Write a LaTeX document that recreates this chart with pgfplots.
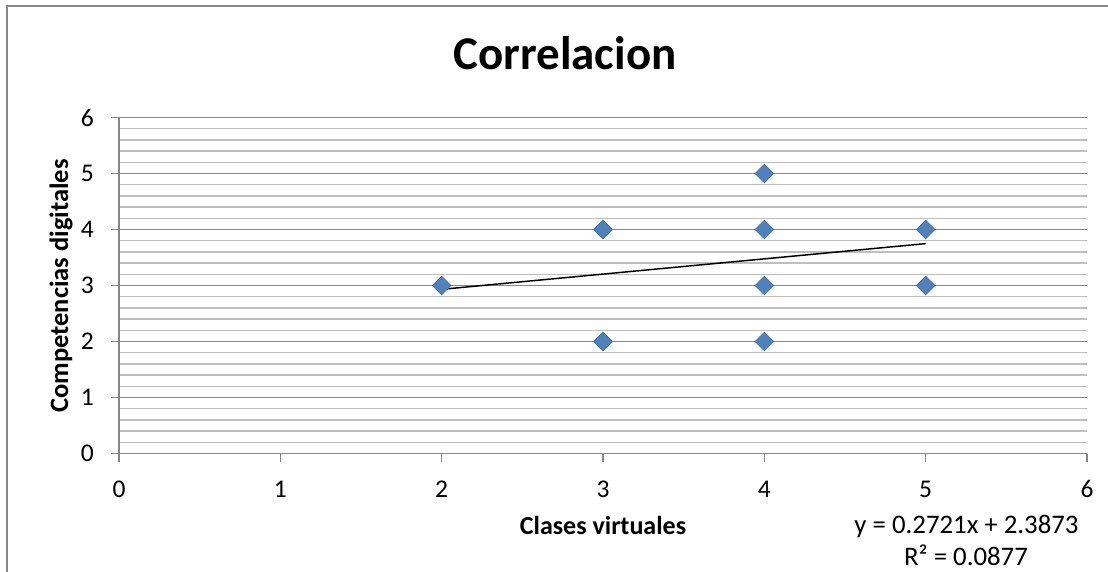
\documentclass[border=0pt]{standalone}
\usepackage{fontspec}
\setmainfont{Carlito}
\usepackage{pgfplots}
\pgfplotsset{compat=1.18}
\definecolor{majgrid}{RGB}{134,134,134}
\definecolor{mingrid}{RGB}{190,190,190}
\definecolor{mk}{RGB}{79,129,189}
\definecolor{frame}{RGB}{134,134,134}
\begin{document}
\begin{tikzpicture}[x=1pt,y=1pt]
\useasboundingbox (0,0) rectangle (1108,571);
\begin{scope}
\clip (0,0) rectangle (1108,571);
\draw[frame, line width=2pt] (6.5,-20) rectangle (1130,564.5);
\end{scope}
\begin{axis}[
  at={(119pt,117.5pt)}, anchor=south west,
  scale only axis, width=968pt, height=336pt,
  xmin=0, xmax=6, ymin=0, ymax=6,
  xtick={0,1,2,3,4,5,6}, ytick={0,1,2,3,4,5,6},
  minor y tick num=4,
  ymajorgrids, yminorgrids,
  major grid style={draw=majgrid, line width=1.6pt},
  minor grid style={draw=mingrid, line width=1.3pt},
  axis x line*=bottom, axis y line*=left,
  axis line style={draw=majgrid, line width=1.6pt, -},
  tick align=outside,
  major tick length=8pt, minor tick length=0pt,
  tick style={draw=majgrid, line width=1.6pt},
  /pgf/number format/assume math mode=true,
  tick label style={font=\fontsize{25.5}{30}\selectfont, inner sep=0pt},
  yticklabel style={anchor=east, xshift=-17pt},
  xticklabel style={anchor=north, yshift=-19pt},
  clip=false,
]
\addplot[only marks, mark=square*, mark size=6.6pt,
  mark options={rotate=45, fill=mk, draw=mk!85!black, line width=0.6pt}]
  coordinates {(2,3) (3,4) (3,2) (4,5) (4,4) (4,3) (4,2) (5,4) (5,3)};
\addplot[black, line width=1.5pt] coordinates {(2,2.9315) (5,3.7478)};
\end{axis}
\node[anchor=base, font=\fontsize{47}{54}\selectfont\bfseries] at (565,501) {Correlacion};
\node[anchor=base, font=\fontsize{26}{30}\selectfont\bfseries] at (603,37) {Clases virtuales};
\node[anchor=base, rotate=90, font=\fontsize{26.5}{30}\selectfont\bfseries] at (68,285) {Competencias digitales};
\node[anchor=base, inner sep=0pt, font=\fontsize{26.8}{30}\selectfont] at (966.5,38) {y = 0.2721x + 2.3873};
\node[anchor=base, inner sep=0pt, font=\fontsize{26.8}{30}\selectfont] at (966,6) {R² = 0.0877};
\end{tikzpicture}
\end{document}
